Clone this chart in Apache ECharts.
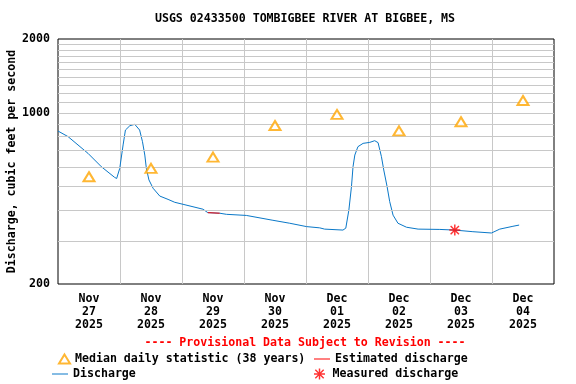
<!DOCTYPE html>
<html><head><meta charset="utf-8">
<script src="https://cdn.jsdelivr.net/npm/echarts@6/dist/echarts.min.js"></script>
<style>html,body{margin:0;padding:0;background:#fff}#c{width:576px;height:384px}</style>
</head><body><div id="c"></div>
<script>
// hours since Nov 27 2025 00:00
const dischargeHours = [0, 3.9, 11.6, 16.8, 21.9, 22.7, 23.9, 25.2, 26.1, 27.8, 29.7, 31.6, 32.7, 33.6, 34.2, 35.2, 36.8, 39.4, 42.6, 45.2, 48.4, 56.1, 58.0, 62.6, 65.2, 72.9, 83.2, 89.7, 96.2, 101.3, 103.2, 110.3, 111.4, 112.6, 113.6, 114.2, 114.9, 116.1, 118.1, 120.7, 122.6, 123.9, 125.2, 126.1, 127.4, 128.4, 129.7, 131.6, 134.9, 139.4, 147.8, 153.6, 160.6, 167.8, 171.0, 176.1, 178.5];
const dischargeValues = [842, 799, 683, 602, 545, 539, 593, 739, 850, 885, 897, 850, 762, 672, 593, 532, 492, 457, 443, 431, 423, 404, 391, 389, 385, 381, 364, 354, 343, 339, 335, 332, 338, 401, 499, 602, 672, 727, 750, 757, 769, 755, 662, 584, 499, 434, 382, 354, 341, 335, 334, 332, 327, 323, 335, 344, 348];
const estimatedHours = [58.0, 62.6];
const estimatedValues = [391, 389];
const medianHours = [12, 36, 60, 84, 108, 132, 156, 180];
const medianValues = [548, 593, 659, 887, 984, 844, 919, 1122];
const measuredHours = [153.6];
const measuredValues = [332];
const dayMonths = ['Nov', 'Nov', 'Nov', 'Nov', 'Dec', 'Dec', 'Dec', 'Dec'];
const dayNumbers = ['27', '28', '29', '30', '01', '02', '03', '04'];
const dayYears = ['2025', '2025', '2025', '2025', '2025', '2025', '2025', '2025'];
const yTickLabels = [200, 1000, 2000];
const yGridValues = [300, 400, 500, 600, 700, 800, 900, 1000, 1100, 1200, 1300, 1400, 1500, 1600, 1700, 1800, 1900];

const FONT = 'DejaVu Sans Mono';
const FS = 11.6;
const zip = (a, b) => a.map((v, i) => [v, b[i]]);
const asterisk = 'path://M5.2,0L6.8,0L6.8,12L5.2,12Z M0,5.2L12,5.2L12,6.8L0,6.8Z M0.9,2.0L2.0,0.9L11.1,10.0L10.0,11.1Z M10.0,0.9L11.1,2.0L2.0,11.1L0.9,10.0Z';
const txt = {fontFamily: FONT, fontSize: FS, fontWeight: 'bold', color: '#000'};

const chart = echarts.init(document.getElementById('c'), null, {renderer: 'canvas'});
chart.setOption({
  animation: false,
  backgroundColor: '#fff',
  title: [
    {text: 'USGS 02433500 TOMBIGBEE RIVER AT BIGBEE, MS', left: 305, top: 13, padding: 0, textAlign: 'center', textStyle: txt},
    {text: '---- Provisional Data Subject to Revision ----', left: 305, top: 337, padding: 0, textAlign: 'center', textStyle: Object.assign({}, txt, {color: '#ff0000'})}
  ],
  grid: {left: 58, right: 22, top: 39, bottom: 100, containLabel: false, outerBoundsMode: 'none', show: true, borderColor: '#000', borderWidth: 1, backgroundColor: 'transparent'},
  legend: [
    {data: ['Median daily statistic (38 years)'], left: 58, top: 353, padding: 0, itemWidth: 11, itemHeight: 9, textStyle: txt, selectedMode: false},
    {data: [{name: 'Discharge', icon: 'rect'}], left: 52, top: 368, padding: 0, itemWidth: 16, itemHeight: 1, textStyle: txt, selectedMode: false},
    {data: [{name: 'Estimated discharge', icon: 'rect'}], left: 314, top: 353, padding: 0, itemWidth: 16, itemHeight: 1, textStyle: txt, selectedMode: false},
    {data: ['Measured discharge'], left: 314, top: 368, padding: 0, itemWidth: 16, itemHeight: 11, textStyle: txt, selectedMode: false}
  ],
  xAxis: [
    {type: 'value', min: 0, max: 192, interval: 24, axisLine: {show: false}, axisTick: {show: false}, axisLabel: {show: false},
     splitLine: {show: true, showMinLine: false, showMaxLine: false, lineStyle: {color: '#c8c8c8', width: 1}}},
    {type: 'value', min: 0, max: 192, interval: 12, position: 'bottom', axisLine: {show: false}, axisTick: {show: false}, splitLine: {show: false},
     axisLabel: Object.assign({}, txt, {margin: 8, lineHeight: 13, formatter: function (v) {
       if (v % 24 !== 12) return '';
       const i = (v - 12) / 24;
       return dayMonths[i] + '\n' + dayNumbers[i] + '\n' + dayYears[i];
     }})}
  ],
  yAxis: {type: 'log', logBase: 10, min: 200, max: 2000, axisLine: {show: false}, axisTick: {show: false}, splitLine: {show: false},
    name: 'Discharge, cubic feet per second', nameLocation: 'middle', nameRotate: 90, nameGap: 46, nameMoveOverlap: false, nameTextStyle: Object.assign({}, txt, {verticalAlign: 'middle'}),
    axisLabel: Object.assign({}, txt, {margin: 8, formatter: function (v) {
      const r = Math.round(v);
      return yTickLabels.indexOf(r) >= 0 ? String(r) : '';
    }})},
  series: [
    {name: 'grid', type: 'line', data: [], z: 1, silent: true,
     markLine: {silent: true, symbol: 'none', label: {show: false}, lineStyle: {color: '#c8c8c8', width: 1, type: 'solid'},
       data: yGridValues.map(v => ({yAxis: v}))}},
    {name: 'Discharge', type: 'line', data: zip(dischargeHours, dischargeValues), symbol: 'none', z: 3,
     lineStyle: {color: '#0a78c8', width: 1}, itemStyle: {color: '#0a78c8'}},
    {name: 'Estimated discharge', type: 'line', data: zip(estimatedHours, estimatedValues), symbol: 'none', z: 4,
     lineStyle: {color: '#ff0000', width: 1}, itemStyle: {color: '#ff0000'}},
    {name: 'Median daily statistic (38 years)', type: 'scatter', data: zip(medianHours, medianValues), symbol: 'emptyTriangle', symbolSize: [11, 9], z: 5,
     itemStyle: {color: '#ffa500', borderColor: '#ffa500', borderWidth: 1}},
    {name: 'Measured discharge', type: 'scatter', data: zip(measuredHours, measuredValues), symbol: asterisk, symbolKeepAspect: true, symbolSize: 11, z: 6,
     itemStyle: {color: '#ff0000'}}
  ]
});
</script></body></html>
